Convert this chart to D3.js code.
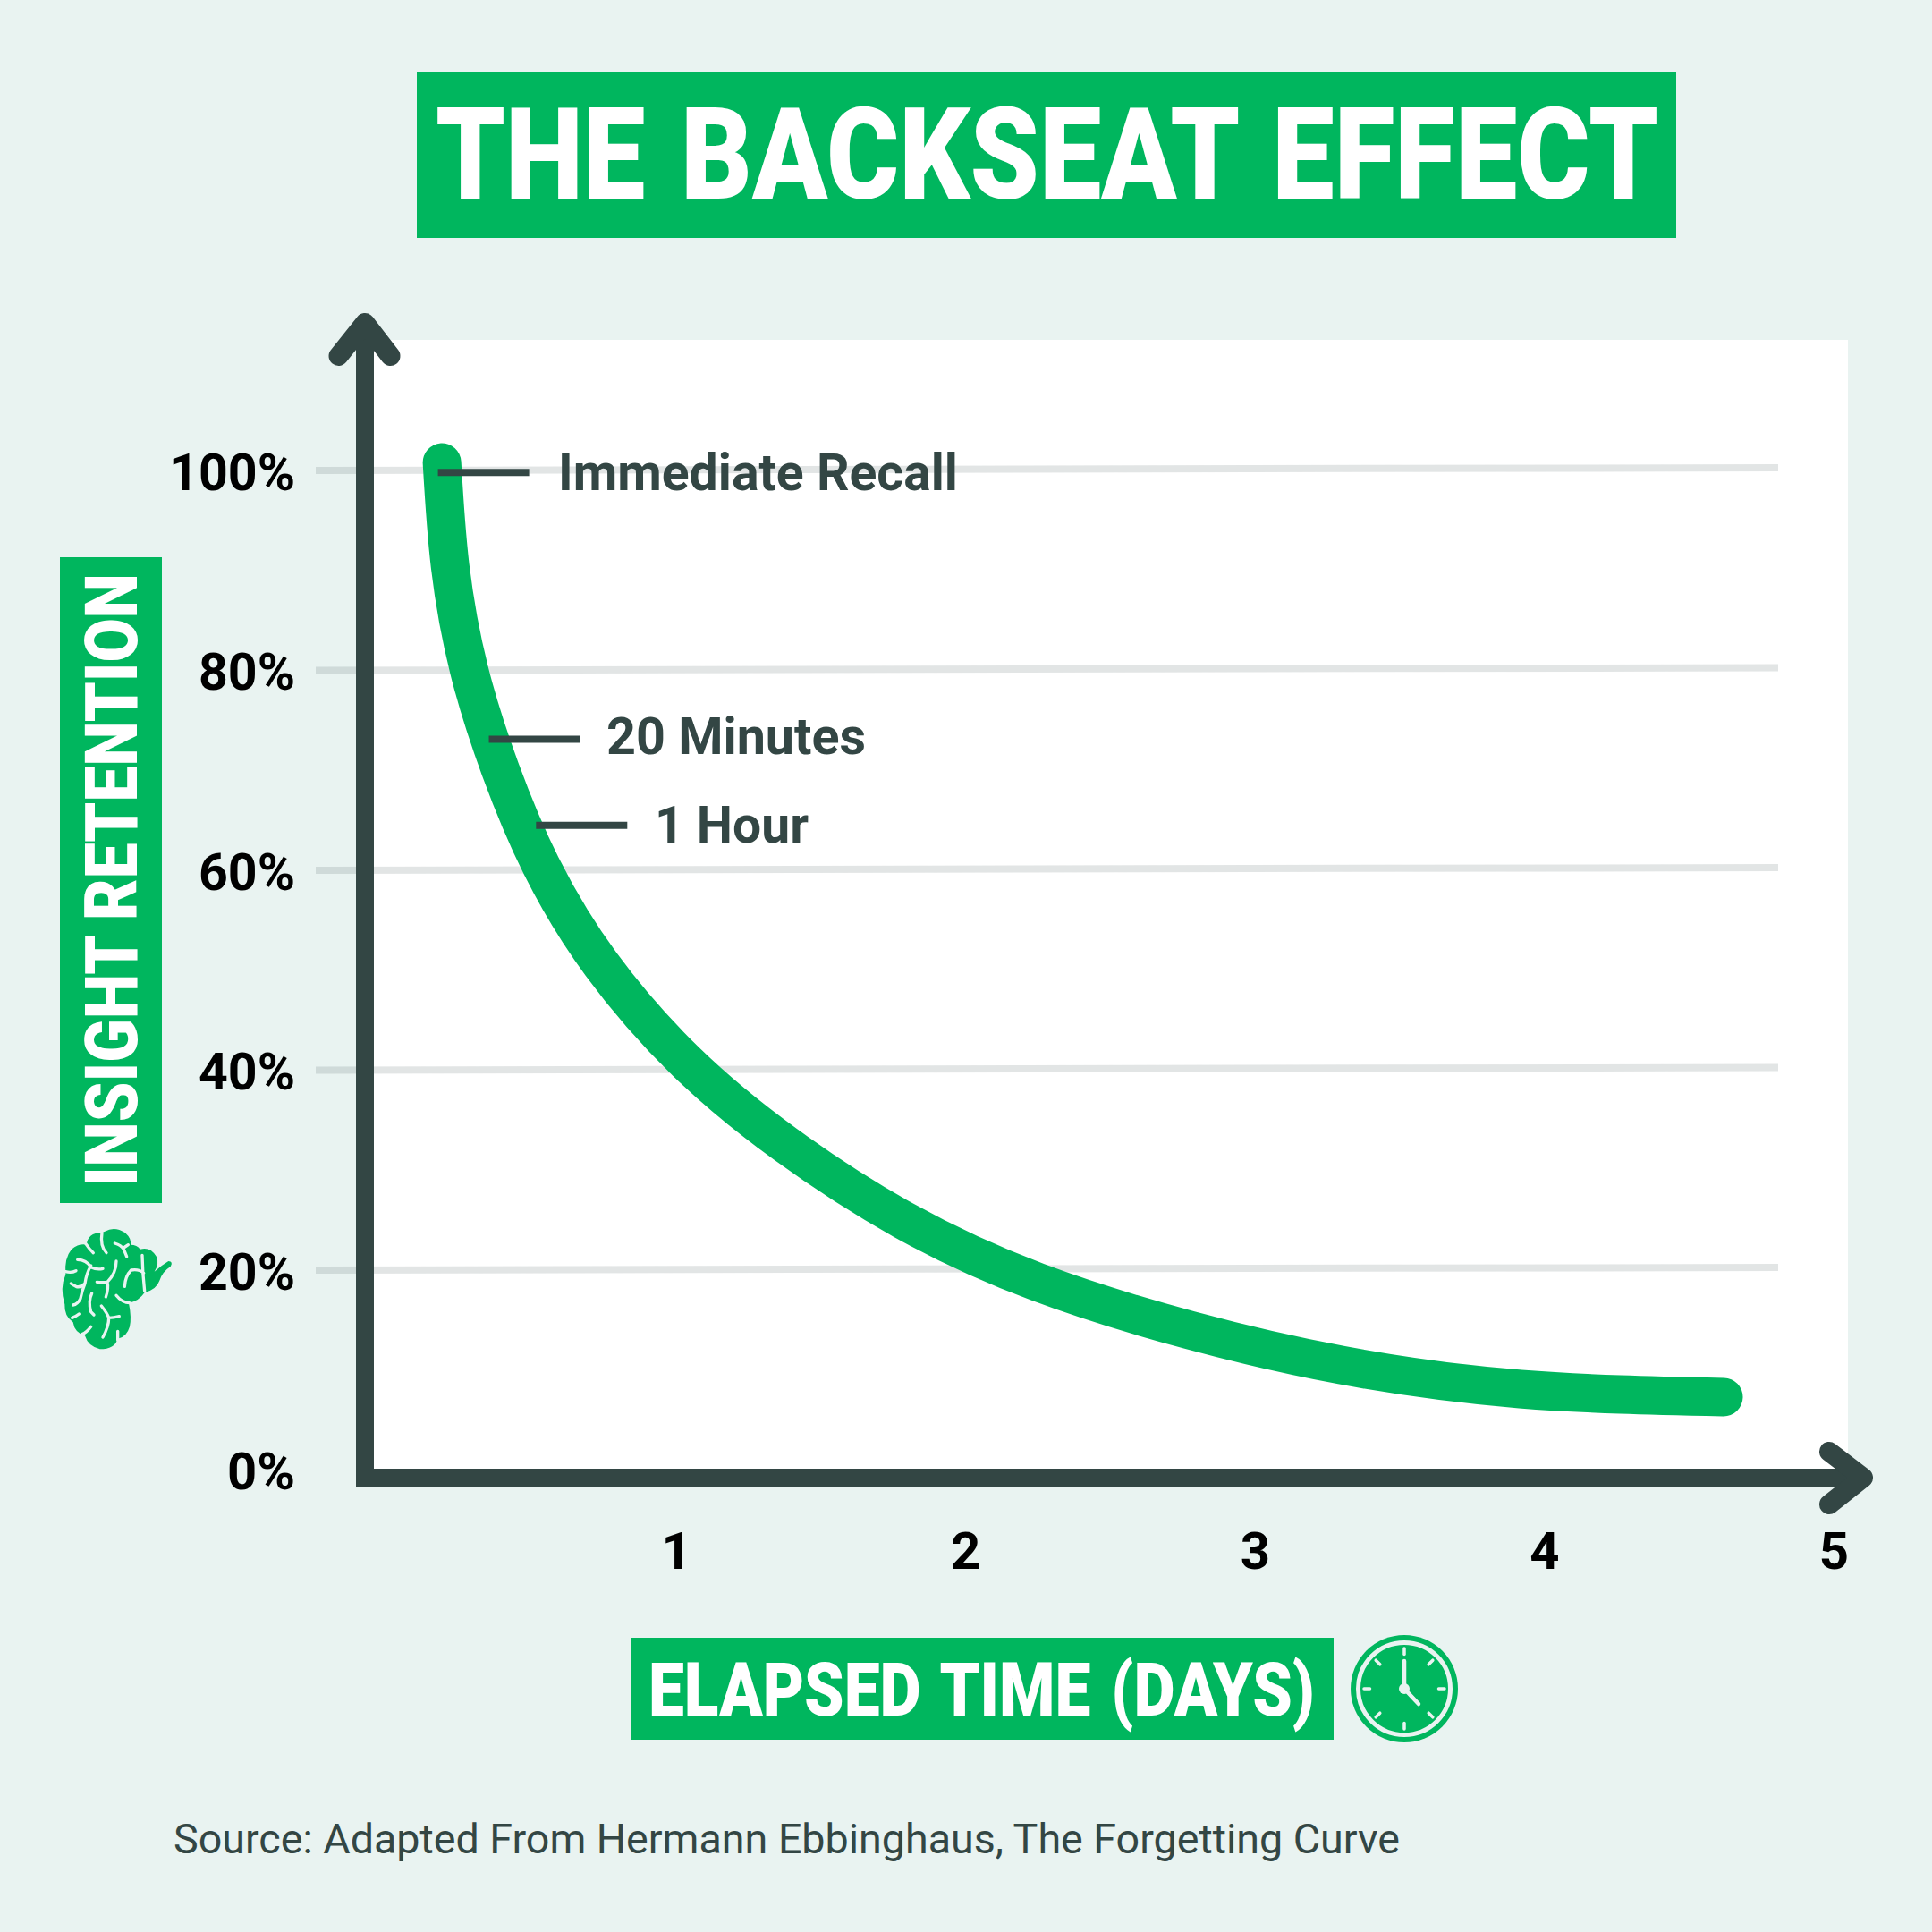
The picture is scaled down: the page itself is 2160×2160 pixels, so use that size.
<!DOCTYPE html>
<html><head><meta charset="utf-8">
<style>html,body{margin:0;padding:0;background:#E9F3F1}svg{display:block}text{font-family:Roboto,sans-serif}</style>
<script src="https://cdn.jsdelivr.net/npm/d3@7/dist/d3.min.js"></script>
</head><body><svg id="c" width="2160" height="2160"></svg>
<script>
const curveDays=[0.192,0.2203,0.2865,0.3934,0.5346,0.7417,1.0352,1.378,1.786,2.250,2.775,3.300,3.918,4.620];
const curvePct=[100.8,90.4,79.95,70.1,60.45,50.6,40.85,32.6,25.0,18.8,14.0,10.5,8.1,7.3];
const yTicks=[0,20,40,60,80,100];
const yTickLabels=["0%","20%","40%","60%","80%","100%"];
const xTicks=[1,2,3,4,5];
const callouts=["Immediate Recall","20 Minutes","1 Hour"];
const calloutDays=[0.178,0.354,0.517];
const calloutPct=[99.8,73.1,64.5];
const title="THE BACKSEAT EFFECT", yTitle="INSIGHT RETENTION", xTitle="ELAPSED TIME (DAYS)";
const source="Source: Adapted From Hermann Ebbinghaus, The Forgetting Curve";

const GREEN="#00B65E",DARK="#334644",BG="#E9F3F1";
const svg=d3.select("#c");
const x=d3.scaleLinear().domain([0,5]).range([432,2050]);
const y=d3.scaleLinear().domain([0,100]).range([1643.5,526]);

svg.append("rect").attr("width",2160).attr("height",2160).attr("fill",BG);
svg.append("rect").attr("x",408).attr("y",380).attr("width",1658).attr("height",1272).attr("fill","#fff");

// title
svg.append("rect").attr("x",466).attr("y",80).attr("width",1408).attr("height",186).attr("fill",GREEN);
svg.append("text").text(title).attr("x",487).attr("y",222).attr("font-size",142).attr("font-weight",900).attr("word-spacing",10)
  .attr("fill","#fff").attr("textLength",1367).attr("lengthAdjust","spacingAndGlyphs");

// grid
svg.append("g").selectAll("line").data(yTicks.filter(d=>d>0)).join("line")
  .attr("x1",353).attr("x2",1988).attr("y1",d=>y(d)).attr("y2",d=>y(d)-3)
  .attr("stroke","#324644").attr("stroke-opacity",.14).attr("stroke-width",8);

// y axis tick labels
const yLabelLen=[76,108,108,108,108,141];
svg.append("g").selectAll("text").data(yTicks).join("text")
  .text((d,i)=>yTickLabels[i]).attr("x",330).attr("y",d=>y(d)+21.5).attr("text-anchor","end")
  .attr("font-size",58).attr("font-weight",700).attr("fill","#000")
  .attr("textLength",(d,i)=>yLabelLen[i]).attr("lengthAdjust","spacingAndGlyphs");
// x axis tick labels
svg.append("g").selectAll("text").data(xTicks).join("text")
  .text(d=>d).attr("x",d=>x(d)+0.5).attr("y",1754).attr("text-anchor","middle")
  .attr("font-size",58).attr("font-weight",700).attr("fill","#000");

// axes
const ln=d3.line();
svg.append("path").attr("d",ln([[408,368],[408,1662]])).attr("stroke",DARK).attr("stroke-width",20).attr("fill","none");
svg.append("path").attr("d",ln([[398,1652],[2080,1652]])).attr("stroke",DARK).attr("stroke-width",20).attr("fill","none");
const arrow=p=>svg.append("path").attr("d",ln(p)).attr("stroke",DARK).attr("stroke-width",22)
  .attr("fill","none").attr("stroke-linecap","round").attr("stroke-linejoin","round");
arrow([[378.5,398],[408,361],[436.5,398]]);
arrow([[2045,1623],[2083,1652],[2045,1682]]);

// curve
const pts=curveDays.map((d,i)=>[x(d),y(curvePct[i])]);
svg.append("path").attr("d",d3.line().curve(d3.curveNatural)(pts))
  .attr("fill","none").attr("stroke",GREEN).attr("stroke-width",43).attr("stroke-linecap","round");

// callouts
const txtW=[447,290,172],txtX=[624,678,732],txtDy=[20,16,19];
callouts.forEach((t,i)=>{
  const cx=x(calloutDays[i]),cy=y(calloutPct[i]);
  svg.append("line").attr("x1",cx).attr("x2",cx+102).attr("y1",cy).attr("y2",cy).attr("stroke",DARK).attr("stroke-width",8);
  svg.append("text").text(t).attr("x",txtX[i]).attr("y",cy+txtDy[i]).attr("font-size",57).attr("font-weight",700)
    .attr("fill",DARK).attr("textLength",txtW[i]).attr("lengthAdjust","spacingAndGlyphs");
});

// y title
svg.append("rect").attr("x",67).attr("y",623).attr("width",114).attr("height",722).attr("fill",GREEN);
svg.append("text").text(yTitle).attr("transform","translate(153,1326) rotate(-90)").attr("font-size",82).attr("font-weight",900)
  .attr("fill","#fff").attr("textLength",685).attr("lengthAdjust","spacingAndGlyphs");

// x title
svg.append("rect").attr("x",705).attr("y",1831).attr("width",786).attr("height",114).attr("fill",GREEN);
svg.append("text").text(xTitle).attr("x",725).attr("y",1918).attr("font-size",83).attr("font-weight",900).attr("word-spacing",6)
  .attr("fill","#fff").attr("textLength",745).attr("lengthAdjust","spacingAndGlyphs");

// source
svg.append("text").text(source).attr("x",194).attr("y",2072).attr("font-size",46).attr("fill",DARK)
  .attr("textLength",1371).attr("lengthAdjust","spacingAndGlyphs");

// clock icon
const ck=svg.append("g").attr("transform","translate(1570,1888)");
ck.append("circle").attr("r",60).attr("fill",GREEN);
ck.append("circle").attr("r",51.5).attr("fill",GREEN).attr("stroke",BG).attr("stroke-width",5);
[0,45,90,135,180,225,270,315].forEach(a=>{
  ck.append("line").attr("y1",-38.5).attr("y2",-45).attr("transform",`rotate(${a})`)
    .attr("stroke",BG).attr("stroke-width",3.5).attr("stroke-linecap","round");
});
ck.append("path").attr("d",ln([[0,-31],[0,0],[16,17]])).attr("fill","none").attr("stroke",BG).attr("stroke-width",4.5)
  .attr("stroke-linecap","round").attr("stroke-linejoin","round");
ck.append("circle").attr("r",6).attr("fill",BG);

// brain icon
const br=svg.append("g").attr("transform","translate(40,1340) scale(.3333)");
br.append("path").attr("fill",GREEN).attr("d","M232 110 Q265 92 300 115 Q322 135 318 155 Q340 155 350 170 Q385 160 405 195 Q415 220 398 245 Q420 225 445 210 Q462 212 452 228 Q425 245 415 275 Q405 305 365 315 Q345 345 312 350 Q322 400 315 430 Q305 465 275 470 Q265 505 215 505 Q175 495 165 460 Q130 450 125 415 Q95 395 97 355 Q80 300 100 255 Q95 200 120 170 Q145 150 170 155 Q175 115 220 115 Z");
br.append("path").attr("fill","none").attr("stroke",BG).attr("stroke-width",10).attr("stroke-linecap","round").attr("stroke-linejoin","round")
  .attr("d","M140 205 Q170 205 185 230 Q205 240 225 235 M185 225 Q170 250 165 285 Q150 300 135 295 Q125 290 118 285 M100 245 Q120 250 135 242 M165 285 Q155 310 150 335 Q140 355 125 357 M270 210 Q270 250 240 280 Q220 282 205 280 M240 280 Q245 300 235 330 M188 318 Q175 345 185 380 L195 390 M220 360 Q240 385 245 400 Q245 430 225 465 M245 400 Q260 400 280 395 M122 400 Q135 395 145 387 M185 430 Q170 450 155 455 M275 475 L275 445 M168 152 Q180 170 193 182 M222 115 Q215 160 237 182 M265 150 Q285 155 295 170 L305 195 M295 165 L310 155 M357 190 Q358 250 365 310 M362 250 Q345 235 320 240 Q300 260 298 295 M270 325 Q290 350 315 350");
</script></body></html>
